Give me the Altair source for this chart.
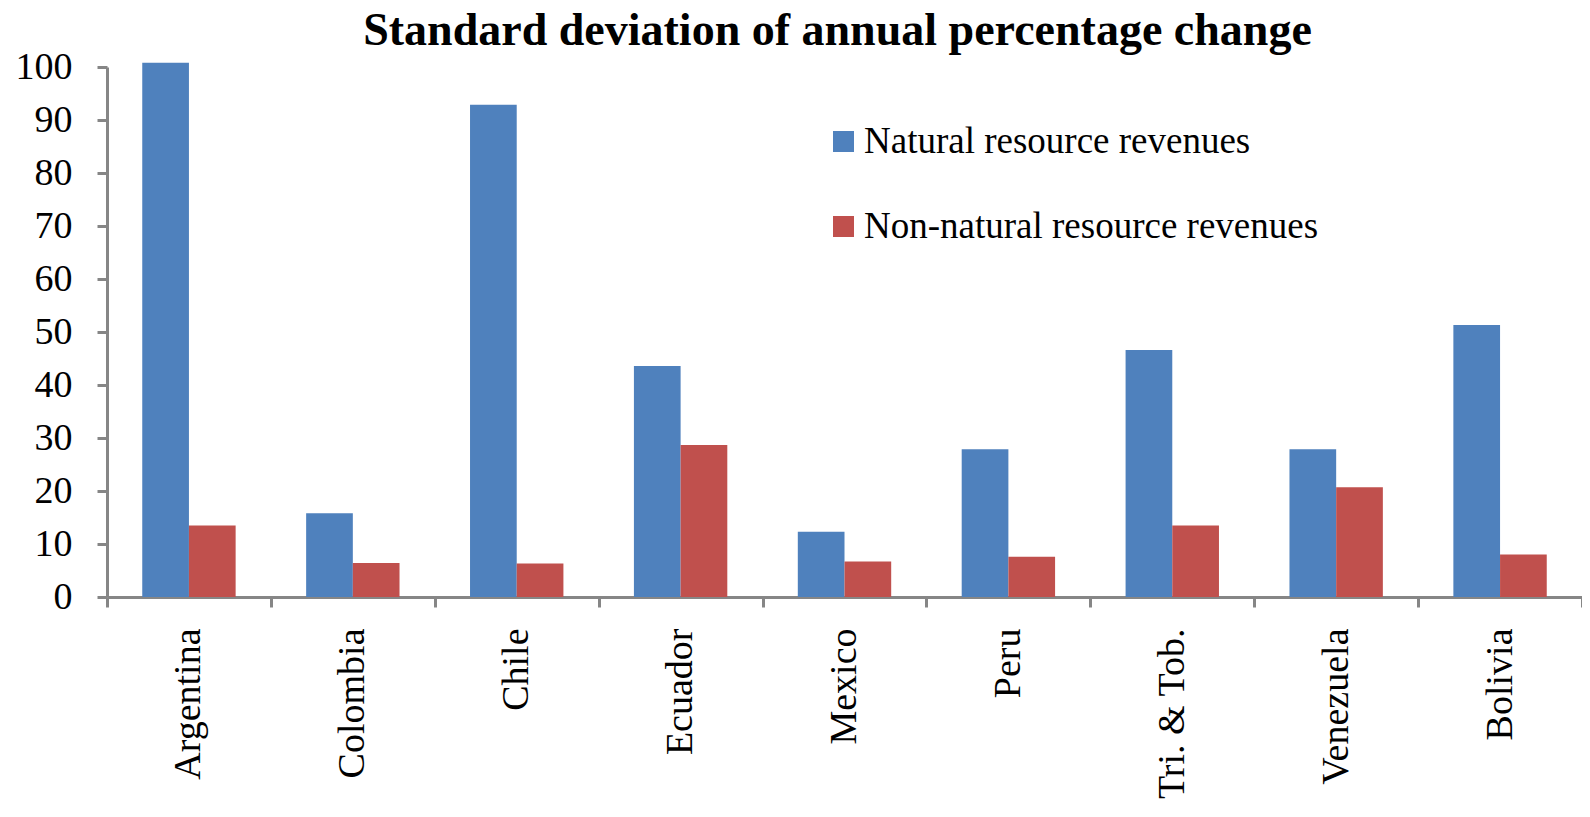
import altair as alt
import pandas as pd

countries = ["Argentina", "Colombia", "Chile", "Ecuador", "Mexico", "Peru",
             "Tri. & Tob.", "Venezuela", "Bolivia"]
natural = [100.8, 15.8, 92.9, 43.6, 12.3, 27.9, 46.6, 27.9, 51.3]
non_natural = [13.5, 6.4, 6.3, 28.7, 6.7, 7.6, 13.5, 20.7, 8.0]
series = ["Natural resource revenues", "Non-natural resource revenues"]
colors = ["#4F81BD", "#C0504D"]
y_ticks = list(range(0, 101, 10))

rows = []
for i, c in enumerate(countries):
    rows.append({"country": c, "series": series[0], "value": natural[i]})
    rows.append({"country": c, "series": series[1], "value": non_natural[i]})
df = pd.DataFrame(rows)

FONT = "Liberation Serif"
GRAY = "#868686"

chart = alt.Chart(df).mark_bar().encode(
    x=alt.X("country:N", sort=countries,
            scale=alt.Scale(paddingInner=0, paddingOuter=0),
            axis=alt.Axis(title=None, labelAngle=-90, tickBand="extent",
                          labelFont=FONT, labelFontSize=38, labelColor="#000000",
                          labelPadding=21, labelLimit=500,
                          tickSize=10, tickWidth=3, tickColor=GRAY,
                          domainColor=GRAY, domainWidth=3)),
    xOffset=alt.XOffset("series:N", sort=series,
                        scale=alt.Scale(paddingInner=0, paddingOuter=0.755)),
    y=alt.Y("value:Q", scale=alt.Scale(domain=[0, 100], nice=False),
            axis=alt.Axis(title=None, values=y_ticks, grid=False,
                          labelFont=FONT, labelFontSize=38, labelColor="#000000",
                          labelPadding=25, tickSize=10, tickWidth=3, tickColor=GRAY,
                          domainColor=GRAY, domainWidth=3)),
    color=alt.Color("series:N", sort=series,
                    scale=alt.Scale(domain=series, range=colors),
                    legend=alt.Legend(title=None, orient="none", legendX=718, legendY=56,
                                      symbolType="square", symbolSize=441,
                                      symbolStrokeWidth=0, symbolOpacity=1,
                                      labelFont=FONT, labelFontSize=37,
                                      labelColor="#000000", labelLimit=1000,
                                      rowPadding=47, labelOffset=2)),
).properties(
    width=1475, height=530,
    padding={"left": 99, "top": 59, "right": 0, "bottom": 204},
    autosize="none",
    title=alt.TitleParams("Standard deviation of annual percentage change",
                          font=FONT, fontSize=46, fontWeight="bold",
                          color="#000000", anchor="middle", frame="group",
                          offset=-7, dx=-7),
).configure_view(stroke=None)

chart.save("out.html", embed_options={"renderer": "svg", "actions": False})
